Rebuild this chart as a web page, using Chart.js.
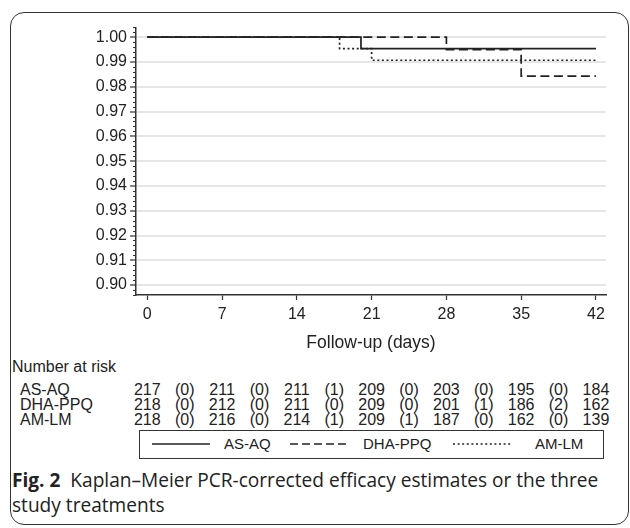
<!DOCTYPE html>
<html>
<head>
<meta charset="utf-8">
<script src="https://cdn.jsdelivr.net/npm/chart.js@4"></script>
<style>
  body { margin: 0; background: #fff; width: 630px; height: 528px; overflow: hidden; position: relative;
         font-family: "Liberation Sans", Arial, sans-serif; color: #222; }
  #frame { position: absolute; left: 10px; top: 12px; width: 619px; height: 513px;
           border: 1.5px solid #333; border-radius: 14px; box-sizing: border-box; }
  #wrap { position: absolute; left: 0; top: 0; width: 630px; height: 358px; }
  .t { position: absolute; font-size: 16px; line-height: 16px; white-space: nowrap; }
  .c { transform: translateX(-50%); }
  #legend { position: absolute; left: 139px; top: 430px; width: 465px; height: 29px;
            border: 1.5px solid #333; box-sizing: border-box; }
  #legend .t { font-size: 15px; }
  #caption { position: absolute; left: 12px; top: 468px; font-family: "Open Sans", sans-serif;
             font-size: 19.1px; line-height: 25px; color: #222; white-space: nowrap; }
</style>
</head>
<body>
<div id="frame"></div>
<div id="wrap"><canvas id="km"></canvas></div>
<div id="risk"></div>
<div id="legend"></div>
<div id="caption"><b>Fig. 2</b>&nbsp; Kaplan–Meier PCR-corrected efficacy estimates or the three<br>study treatments</div>
<script>
// follow-up ticks and number at risk
const days = [0, 7, 14, 21, 28, 35, 42];
const yTicks = [0.90, 0.91, 0.92, 0.93, 0.94, 0.95, 0.96, 0.97, 0.98, 0.99, 1.00];
const arms = ["AS-AQ", "DHA-PPQ", "AM-LM"];
const asaqRisk = [217, 211, 211, 209, 203, 195, 184];
const asaqEvents = [0, 0, 1, 0, 0, 0];
const dhaRisk = [218, 212, 211, 209, 201, 186, 162];
const dhaEvents = [0, 0, 0, 0, 1, 2];
const amlmRisk = [218, 216, 214, 209, 187, 162, 139];
const amlmEvents = [0, 0, 1, 1, 0, 0];

// KM step curves (time, survival)
const asaqX = [0, 20, 42];
const asaqY = [1, 0.9954, 0.9954];
const dhaX = [0, 28, 35, 42];
const dhaY = [1, 0.9950, 0.9843, 0.9843];
const amlmX = [0, 18, 21, 42];
const amlmY = [1, 0.9954, 0.9907, 0.9907];

const pts = (xs, ys) => xs.map((x, i) => ({x: x, y: ys[i]}));
const ink = "#222";

const minorTicks = {
  id: "minorTicks",
  afterDraw(chart) {
    const y = chart.scales.y, ctx = chart.ctx, left = chart.chartArea.left;
    ctx.save();
    ctx.strokeStyle = "#333";
    ctx.lineWidth = 1;
    for (let k = 448; k <= 502; k++) {
      if (k % 5 === 0) continue;
      const py = Math.round(y.getPixelForValue(k * 0.002)) + 0.5;
      ctx.beginPath();
      ctx.moveTo(left - 3, py);
      ctx.lineTo(left, py);
      ctx.stroke();
    }
    ctx.restore();
  }
};

const config = {
  type: "line",
  data: {
    datasets: [
      {label: "AM-LM", data: pts(amlmX, amlmY), borderDash: [2, 2.6]},
      {label: "DHA-PPQ", data: pts(dhaX, dhaY), borderDash: [9, 4.5]},
      {label: "AS-AQ", data: pts(asaqX, asaqY)}
    ].map(d => Object.assign(d, {stepped: true, borderColor: ink, borderWidth: 1.7,
                                  pointRadius: 0, fill: false, tension: 0}))
  },
  options: {
    responsive: true,
    maintainAspectRatio: false,
    animation: false,
    layout: {padding: {top: 28, right: 24, left: 0, bottom: 0}},
    scales: {
      x: {
        type: "linear", min: -1.06, max: 42.94,
        afterBuildTicks: s => { s.ticks = days.map(v => ({value: v})); },
        afterFit: s => { s.height = 63; },
        grid: {drawOnChartArea: false, tickLength: 5, tickColor: "#333", tickWidth: 1.2},
        border: {color: "#333", width: 1.5},
        ticks: {color: ink, font: {family: "Liberation Sans", size: 16}, padding: 5, maxRotation: 0},
        title: {display: true, text: "Follow-up (days)", color: ink,
                font: {family: "Liberation Sans", size: 17.5}, padding: {top: 4, bottom: 4}}
      },
      y: {
        type: "linear", min: 0.896, max: 1.0037,
        afterBuildTicks: s => { s.ticks = yTicks.map(v => ({value: v})); },
        afterFit: s => { s.width = 136; },
        grid: {color: "#e6e6e6", lineWidth: 2, tickLength: 6, tickColor: "#333", tickWidth: 1.2},
        border: {color: "#333", width: 1.5},
        ticks: {color: ink, font: {family: "Liberation Sans", size: 16}, padding: 3,
                callback: v => v.toFixed(2)}
      }
    },
    plugins: {legend: {display: false}, tooltip: {enabled: false}}
  },
  plugins: [minorTicks]
};

const chart = new Chart(document.getElementById("km"), config);

// number-at-risk table placed on the chart's x scale
const risk = document.getElementById("risk");
function addText(txt, x, y, centered) {
  const s = document.createElement("span");
  s.className = "t" + (centered ? " c" : "");
  s.textContent = txt;
  s.style.left = x + "px";
  s.style.top = y + "px";
  risk.appendChild(s);
}
addText("Number at risk", 12, 359, false);
const rows = [[asaqRisk, asaqEvents], [dhaRisk, dhaEvents], [amlmRisk, amlmEvents]];
const xs = chart.scales.x;
rows.forEach((r, i) => {
  const top = 382 + i * 15;
  addText(arms[i], 20, top, false);
  r[0].forEach((n, j) => addText(String(n), xs.getPixelForValue(days[j]), top, true));
  r[1].forEach((e, j) => addText("(" + e + ")", xs.getPixelForValue((days[j] + days[j + 1]) / 2), top, true));
});

// legend box
const legend = document.getElementById("legend");
const legendItems = [
  {label: "AS-AQ", dash: "", line: 12, text: 84},
  {label: "DHA-PPQ", dash: "8 4", line: 150, text: 223},
  {label: "AM-LM", dash: "2 2.6", line: 313, text: 395}
];
legendItems.forEach(it => {
  const svg = document.createElementNS("http://www.w3.org/2000/svg", "svg");
  svg.setAttribute("width", 58);
  svg.setAttribute("height", 4);
  svg.style.position = "absolute";
  svg.style.left = it.line + "px";
  svg.style.top = "11px";
  const ln = document.createElementNS("http://www.w3.org/2000/svg", "line");
  ln.setAttribute("x1", 0); ln.setAttribute("x2", 58);
  ln.setAttribute("y1", 2); ln.setAttribute("y2", 2);
  ln.setAttribute("stroke", ink);
  ln.setAttribute("stroke-width", 1.5);
  if (it.dash) ln.setAttribute("stroke-dasharray", it.dash);
  svg.appendChild(ln);
  legend.appendChild(svg);
  const s = document.createElement("span");
  s.className = "t";
  s.textContent = it.label;
  s.style.left = it.text + "px";
  s.style.top = "5px";
  legend.appendChild(s);
});
</script>
</body>
</html>
